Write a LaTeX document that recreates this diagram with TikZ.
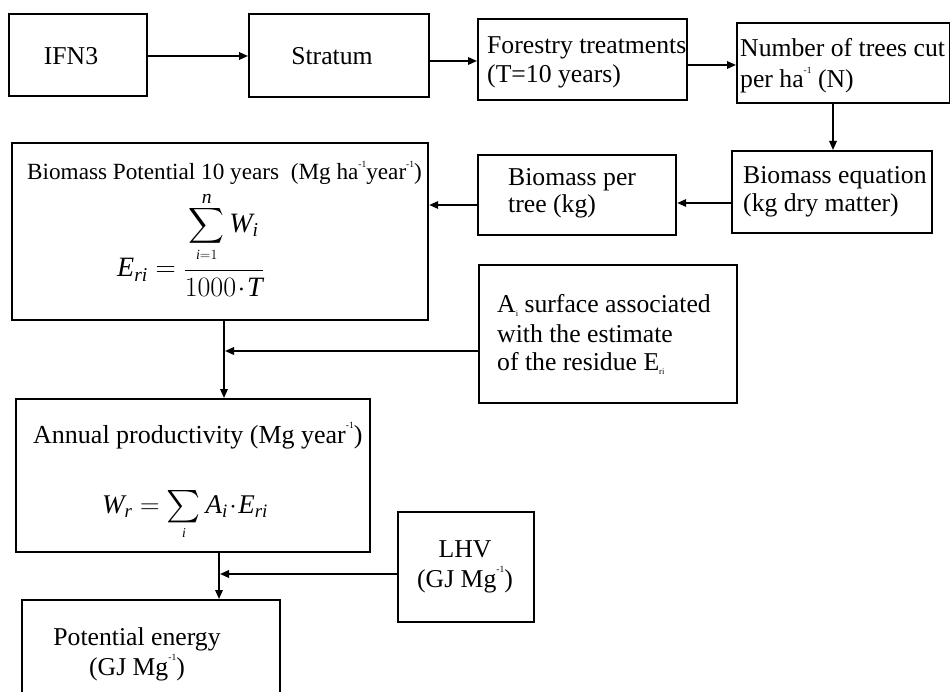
\RequirePackage{fix-cm}
\documentclass[tikz,border=0pt]{standalone}
\usepackage{amsmath}
\usepackage{fontspec}
\setmainfont{Liberation Serif}
\usetikzlibrary{arrows.meta}
\newcommand\tsup[1]{\raisebox{0.55em}{\fontsize{9.5}{9.5}\selectfont #1}}
\newcommand\tsub[1]{\raisebox{-0.12em}{\fontsize{8.5}{8.5}\selectfont #1}}
\newcommand\mlines[2][l]{\begin{tabular}[t]{@{}#1@{}}#2\end{tabular}}
\begin{document}
\begin{tikzpicture}[x=1pt,y=-1pt,
  font=\fontsize{25.7}{29}\selectfont,
  box/.style={draw, line width=2.2pt, inner sep=0pt, anchor=north west},
  txt/.style={inner sep=0pt, anchor=base west},
  arr/.style={line width=1.7pt, -{Triangle[length=9pt,width=7.5pt]}}]
\useasboundingbox (0,0) rectangle (950,692);
\clip (0,0) rectangle (950,692);
% boxes
\node[box, minimum width=138pt, minimum height=82pt] (ifn) at (8,13) {};
\node[box, minimum width=180pt, minimum height=83pt] (stratum) at (248,13) {};
\node[box, minimum width=209pt, minimum height=81pt] (forestry) at (477,18) {};
\node[box, minimum width=213pt, minimum height=80pt] (number) at (736,22) {};
\node[box, minimum width=200pt, minimum height=82pt] (bioeq) at (731,150) {};
\node[box, minimum width=198pt, minimum height=80pt] (biopt) at (477,154) {};
\node[box, minimum width=416pt, minimum height=177pt] (biopot) at (11,142) {};
\node[box, minimum width=258pt, minimum height=138pt] (ai) at (478,264) {};
\node[box, minimum width=354pt, minimum height=153pt] (annual) at (15,398) {};
\node[box, minimum width=136pt, minimum height=110pt] (lhv) at (397,511) {};
\node[box, minimum width=258pt, minimum height=130pt] (energy) at (21,599) {};
% texts
\node[txt, anchor=base] (ifnt) at (71,65) {IFN3};
\node[txt, anchor=base] (stratumt) at (332,65) {Stratum};
\node[txt] (forestryt) at (487,54) {\mlines{Forestry treatments\\(T=10 years)}};
\node[txt, font=\fontsize{25.7}{31}\selectfont] (numbert) at (740,57) {\mlines{Number of trees cut\\per ha\tsup{-1} (N)}};
\node[txt, font=\fontsize{25.7}{28}\selectfont] (bioeqt) at (743,184) {\mlines{Biomass equation\\(kg dry matter)}};
\node[txt, font=\fontsize{25.7}{27.5}\selectfont] (biopttt) at (508,185.5) {\mlines{Biomass per\\tree (kg)}};
\node[txt, font=\fontsize{23.2}{26}\selectfont] (biopott) at (27,180) {Biomass Potential 10 years\ \ (Mg ha\tsup{-1}year\tsup{-1})};
\node[txt, font=\fontsize{28}{32}\selectfont] (eq1) at (117,277)
  {$\mathit{E}_{\mathit{ri}} = \dfrac{\raisebox{-6pt}[\height][\dimexpr\depth-16pt\relax]{$\displaystyle\mathop{\sum}\limits_{\raisebox{5pt}{$\scriptscriptstyle\mathit{i}=1$}}^{\raisebox{-8pt}[\height][0pt]{$\scriptstyle\mathit{n}$}}\mathit{W}_{\mathit{i}}$}}{1000\!\cdot\!\mathit{T}}$};
\node[txt, font=\fontsize{25.7}{29}\selectfont] (ait) at (497,313) {\mlines{A\tsub{i} surface associated\\with the estimate\\of the residue E\tsub{ri}}};
\node[txt, font=\fontsize{26}{29}\selectfont] (annualt) at (33,443) {Annual productivity (Mg year\tsup{-1})};
\node[txt, font=\fontsize{27}{31}\selectfont] (eq2) at (102,513)
  {$\mathit{W}_{\mathit{r}} = \mathop{\vcenter{\hbox{\scalebox{1.3}{$\textstyle\sum$}}}}\limits_{\scriptscriptstyle\mathit{i}}\mathit{A}_{\mathit{i}}\!\cdot\!\mathit{E}_{\mathit{ri}}$};
\node[txt, anchor=base, font=\fontsize{25.7}{30}\selectfont] (lhvt) at (465,557) {\mlines[c]{LHV\\(GJ Mg\tsup{-1})}};
\node[txt, anchor=base, font=\fontsize{25.7}{30}\selectfont] (energyt) at (137,645) {\mlines[c]{Potential energy\\(GJ Mg\tsup{-1})}};
% connectors
\coordinate (j1) at (224,351);
\coordinate (j2) at (219,574);
\draw[arr] (ifn.east |- 0,56) -- (stratum.west |- 0,56);
\draw[arr] (stratum.east |- 0,61) -- (forestry.west |- 0,61);
\draw[arr] (forestry.east |- 0,65) -- (number.west |- 0,65);
\draw[arr] (number.south -| 833,0) -- (bioeq.north -| 833,0);
\draw[arr] (bioeq.west |- 0,203) -- (biopt.east |- 0,203);
\draw[arr] (biopt.west |- 0,205) -- (biopot.east |- 0,205);
\draw[arr] (biopot.south -| j1) -- (annual.north -| j1);
\draw[arr, shorten >=1pt] (ai.west |- j1) -- (j1);
\draw[arr] (annual.south -| j2) -- (energy.north -| j2);
\draw[arr, shorten >=1pt] (lhv.west |- j2) -- (j2);
\end{tikzpicture}
\end{document}
